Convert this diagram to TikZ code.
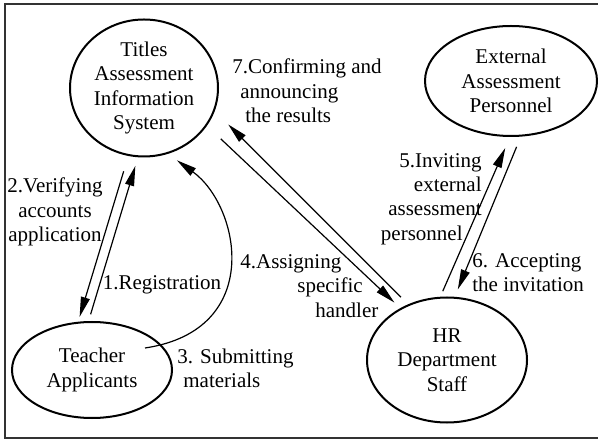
\documentclass[tikz,border=0pt]{standalone}
\usepackage{fontspec}
\setmainfont{Liberation Serif}
\usetikzlibrary{shapes.geometric,arrows.meta}
\tikzset{
	actor/.style={draw, ellipse, line width=1pt, align=center, inner sep=0pt},
	flow/.style={line width=0.6pt, -{Triangle[length=10pt,width=4.5pt]}},
	note/.style={inner sep=0pt}
}

\begin{document}
\begin{tikzpicture}[x=0.5pt, y=-0.5pt, font=\fontsize{10.5}{12.2}\selectfont]
			%%%%% START %%%%%
			
			\clip (0, 0) rectangle (598, 442);
			\draw[line width=1.2pt, color=black!80] (5, 4) rectangle (620, 438);
			
			\node[actor, minimum width=74pt, minimum height=68.5pt] (titles) at (144, 88) {Titles\\Assessment\\Information\\System};
			\node[actor, minimum width=86pt, minimum height=55pt] (external) at (511, 81) {External\\Assessment\\Personnel};
			\node[actor, minimum width=80pt, minimum height=48pt] (teacher) at (92, 370) {Teacher\\Applicants};
			\node[actor, minimum width=80pt, minimum height=62.5pt] (hr) at (447, 360) {HR\\Department\\Staff};
			
			\draw[flow, shorten <=3.5pt, shorten >=4.5pt] (teacher.94) -- (titles.-95);
			\draw[flow, shorten <=8pt, shorten >=2.5pt] (titles.-103) -- (teacher.106);
			
			\coordinate (handIn) at (145, 348);
			\draw[flow, shorten >=5.5pt] (handIn) .. controls +(120, -18) and +(72, 52) .. (titles.-70);
			
			\draw[flow, shorten <=9.5pt, shorten >=4pt] (titles.-31) -- (hr.132);
			\draw[flow, shorten <=5pt, shorten >=9.5pt] (hr.125) -- (titles.-18);
			
			\draw[flow, shorten <=3pt, shorten >=6pt] (hr.96) -- (external.-91);
			\draw[flow, shorten <=5.5pt, shorten >=4pt] (external.-80.5) -- (hr.83.5);
			
			\node[note] (register) at (162, 285) {1.Registration};
			\node[note, align=center] (verify) at (55, 212) {2.Verifying\\accounts\\application};
			\node[note, align=left, anchor=west] (submit) at (177, 368.5) {3. Submitting\\\hspace*{3pt}materials};
			\node[note, align=left, anchor=west] (assign) at (240, 286) {4.Assigning\\\hspace*{28.5pt}specific\\\hspace*{37.5pt}handler};
			\node[note, align=right, anchor=east] (invite) at (482, 199) {5.Inviting\\external\hspace*{1pt}\\assessment\hspace*{5pt}\\personnel\hspace*{9.5pt}};
			\node[note, align=left, anchor=west] (accept) at (472, 272.5) {6. Accepting\\the invitation};
			\node[note, align=left, anchor=west] (confirm) at (232, 91) {7.Confirming and\\\hspace*{4pt}announcing\\\hspace*{6.5pt}the results};
			
			%%%%% END %%%%%
\end{tikzpicture}
\end{document}
